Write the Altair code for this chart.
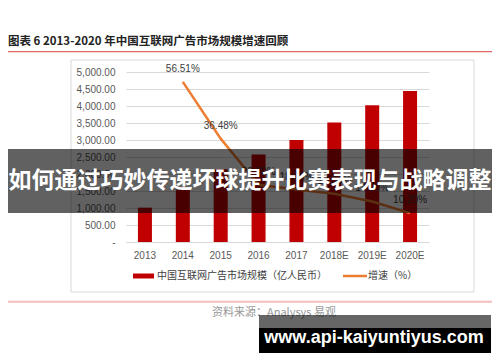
import altair as alt
import pandas as pd

years = ["2013", "2014", "2015", "2016", "2017", "2018E", "2019E", "2020E"]
market = [1010, 1540, 2140, 2570, 3000, 3515, 4025, 4440]
growth = [None, 0.5651, 0.3648, 0.2020, 0.1850, 0.1700, 0.1430, 0.1020]
left_ticks = [0, 500, 1000, 1500, 2000, 2500, 3000, 3500, 4000, 4500, 5000]
right_ticks = [0, 0.1, 0.2, 0.3, 0.4, 0.5, 0.6]

title_text = "图表 6 2013-2020 年中国互联网广告市场规模增速回顾"
legend_bar = "中国互联网广告市场规模（亿人民币）"
legend_line = "增速（%）"
source_text = "资料来源：Analysys 易观"
banner_text = "如何通过巧妙传递坏球提升比赛表现与战略调整"
watermark_text = "www.api-kaiyuntiyus.com"

df = pd.DataFrame({"year": years, "market": market, "growth": growth})
one = pd.DataFrame({"a": [0]})

FONT = "Liberation Sans"
CJK = "Noto Sans CJK SC"

xenc = alt.X("year:N", sort=years, title=None,
             scale=alt.Scale(paddingInner=0, paddingOuter=0),
             axis=alt.Axis(labelAngle=0, ticks=False, domain=True, domainColor="#d9d9d9",
                           labelPadding=8, labelFont=FONT, labelFontSize=10,
                           labelColor="#595959"))

bars = alt.Chart(df).mark_bar(size=14, color="#C00000").encode(
    x=xenc,
    y=alt.Y("market:Q", title=None, scale=alt.Scale(domain=[0, 5000]),
            axis=alt.Axis(values=left_ticks, grid=True, gridColor="#d9d9d9",
                          domain=False, ticks=False, labelPadding=11,
                          labelFont=FONT, labelFontSize=10, labelColor="#595959",
                          labelExpr="datum.value == 0 ? '-' : format(datum.value, ',.2f')")),
)

line = alt.Chart(df).mark_line(color="#ED7D31", strokeWidth=2.5).encode(
    x=alt.X("year:N", sort=years),
    y=alt.Y("growth:Q", title=None, scale=alt.Scale(domain=[0, 0.6]),
            axis=alt.Axis(orient="right", values=right_ticks, format=".2%", grid=False,
                          domain=False, ticks=False, labelPadding=9,
                          labelFont=FONT, labelFontSize=10, labelColor="#595959")),
)

labels = alt.Chart(df).mark_text(dy=-13, font=FONT, fontSize=10, color="#404040").encode(
    x=alt.X("year:N", sort=years),
    y=alt.Y("growth:Q", axis=None),
    text=alt.Text("growth:Q", format=".2%"),
)

growth_layer = alt.layer(line, labels)


def rect(x, x2, y, y2, **kw):
    return alt.Chart(one).mark_rect(**kw).encode(
        x=alt.value(x), x2=alt.value(x2), y=alt.value(y), y2=alt.value(y2))


def rule(x, x2, y, **kw):
    return alt.Chart(one).mark_rule(**kw).encode(
        x=alt.value(x), x2=alt.value(x2), y=alt.value(y))


def text(s, x, y, **kw):
    return alt.Chart(one).mark_text(**kw).encode(
        x=alt.value(x), y=alt.value(y), text=alt.value(s))


frame = rect(-55, 348, -12, 220, fill=None, fillOpacity=0, stroke="#d9d9d9", strokeWidth=1)
leg_sw1 = rect(7, 28, 201.5, 206.5, color="#C00000")
leg_t1 = text(legend_bar, 31, 204, align="left", baseline="middle", font=CJK,
              fontSize=10, color="#404040")
leg_sw2 = rule(217, 241, 204, color="#ED7D31", strokeWidth=2.5)
leg_t2 = text(legend_line, 242, 204, align="left", baseline="middle", font=CJK,
              fontSize=10, color="#404040")
title = text(title_text, -118, -30, align="left", baseline="middle", font=CJK,
             fontSize=11.5, fontWeight="bold", color="#222222")
title_rule = rule(-118, 366, -20.3, color="#E06666", strokeWidth=1.2)
pink_rule = rule(-118, 366, 229.7, color="#F4BDBD", strokeWidth=2)
source = text(source_text, 86, 241, align="left", baseline="middle", font=CJK,
              fontSize=11, color="#999999")
banner = rect(-118, 366, 77, 141, color="#000000", opacity=0.62)
banner_t = text(banner_text, 124, 109, align="center", baseline="middle", font=CJK,
                fontSize=23, fontWeight="bold", color="#ffffff")
wm_top = rect(133, 365, 243, 256, color="#000000", opacity=0.6)
wm_box = rect(133, 365, 256, 281, color="#000000")
wm_t = text(watermark_text, 248, 266, align="center", baseline="middle", font=FONT,
            fontSize=18, fontWeight="bold", color="#ffffff")

chart = alt.layer(
    bars, growth_layer, frame, leg_sw1, leg_t1, leg_sw2, leg_t2,
    title, title_rule, pink_rule, source, banner, banner_t, wm_top, wm_box, wm_t,
).resolve_scale(y="independent").properties(
    width=303, height=170,
    autosize=alt.AutoSizeParams(type="none"),
    padding={"left": 118, "top": 64, "right": 63, "bottom": 112},
    background="#ffffff",
).configure_view(stroke=None)

chart.save("out.html", embed_options={"renderer": "svg", "actions": False})
